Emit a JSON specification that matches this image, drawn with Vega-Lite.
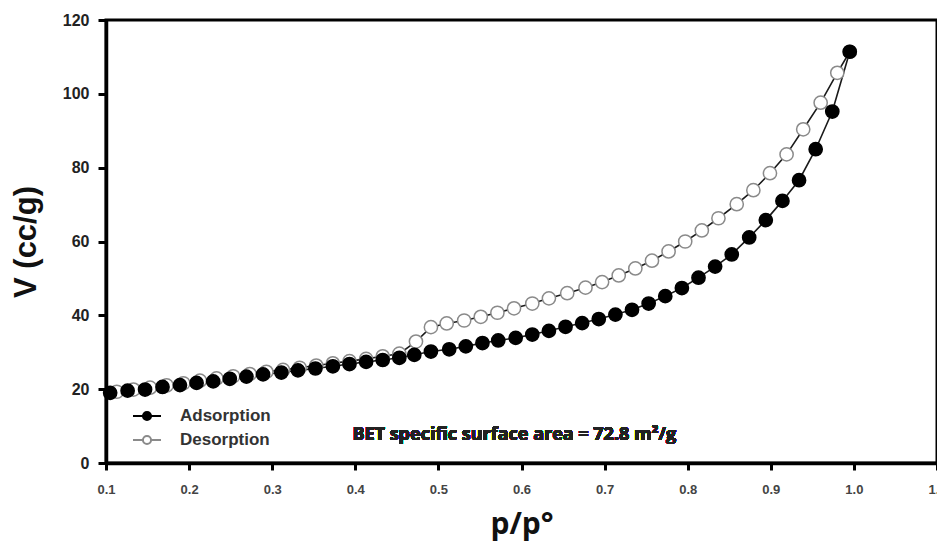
{
  "$schema": "https://vega.github.io/schema/vega-lite/v6.json",
  "width": 831,
  "height": 443,
  "autosize": "none",
  "padding": {"left": 106, "top": 20, "right": 0, "bottom": 79},
  "background": "white",
  "config": {
    "view": {"stroke": "black", "strokeWidth": 3},
    "axis": {"grid": false}
  },
  "data": {
    "values": [
      {"series": "Desorption", "p": 0.113, "v": 19.3},
      {"series": "Desorption", "p": 0.133, "v": 19.9},
      {"series": "Desorption", "p": 0.153, "v": 20.4},
      {"series": "Desorption", "p": 0.173, "v": 21.0},
      {"series": "Desorption", "p": 0.193, "v": 21.6},
      {"series": "Desorption", "p": 0.213, "v": 22.3},
      {"series": "Desorption", "p": 0.233, "v": 22.9},
      {"series": "Desorption", "p": 0.253, "v": 23.5},
      {"series": "Desorption", "p": 0.273, "v": 24.1},
      {"series": "Desorption", "p": 0.293, "v": 24.7},
      {"series": "Desorption", "p": 0.313, "v": 25.2},
      {"series": "Desorption", "p": 0.333, "v": 25.8},
      {"series": "Desorption", "p": 0.353, "v": 26.4},
      {"series": "Desorption", "p": 0.373, "v": 27.0},
      {"series": "Desorption", "p": 0.393, "v": 27.6},
      {"series": "Desorption", "p": 0.413, "v": 28.2},
      {"series": "Desorption", "p": 0.433, "v": 28.9},
      {"series": "Desorption", "p": 0.453, "v": 29.6},
      {"series": "Desorption", "p": 0.473, "v": 32.9},
      {"series": "Desorption", "p": 0.491, "v": 36.8},
      {"series": "Desorption", "p": 0.510, "v": 37.8},
      {"series": "Desorption", "p": 0.531, "v": 38.6},
      {"series": "Desorption", "p": 0.551, "v": 39.6},
      {"series": "Desorption", "p": 0.571, "v": 40.7},
      {"series": "Desorption", "p": 0.591, "v": 41.9},
      {"series": "Desorption", "p": 0.613, "v": 43.2},
      {"series": "Desorption", "p": 0.633, "v": 44.6},
      {"series": "Desorption", "p": 0.655, "v": 46.0},
      {"series": "Desorption", "p": 0.677, "v": 47.5},
      {"series": "Desorption", "p": 0.697, "v": 49.0},
      {"series": "Desorption", "p": 0.717, "v": 50.8},
      {"series": "Desorption", "p": 0.737, "v": 52.7},
      {"series": "Desorption", "p": 0.757, "v": 54.8},
      {"series": "Desorption", "p": 0.777, "v": 57.3},
      {"series": "Desorption", "p": 0.797, "v": 60.0},
      {"series": "Desorption", "p": 0.817, "v": 63.0},
      {"series": "Desorption", "p": 0.837, "v": 66.3},
      {"series": "Desorption", "p": 0.859, "v": 70.1},
      {"series": "Desorption", "p": 0.879, "v": 73.9},
      {"series": "Desorption", "p": 0.899, "v": 78.5},
      {"series": "Desorption", "p": 0.919, "v": 83.6},
      {"series": "Desorption", "p": 0.939, "v": 90.4},
      {"series": "Desorption", "p": 0.960, "v": 97.6},
      {"series": "Desorption", "p": 0.980, "v": 105.7},
      {"series": "Desorption", "p": 0.995, "v": 111.4},
      {"series": "Adsorption", "p": 0.105, "v": 19.0},
      {"series": "Adsorption", "p": 0.126, "v": 19.6},
      {"series": "Adsorption", "p": 0.147, "v": 19.9},
      {"series": "Adsorption", "p": 0.168, "v": 20.6},
      {"series": "Adsorption", "p": 0.189, "v": 21.1},
      {"series": "Adsorption", "p": 0.209, "v": 21.7},
      {"series": "Adsorption", "p": 0.229, "v": 22.1},
      {"series": "Adsorption", "p": 0.249, "v": 22.8},
      {"series": "Adsorption", "p": 0.269, "v": 23.4},
      {"series": "Adsorption", "p": 0.289, "v": 24.0},
      {"series": "Adsorption", "p": 0.311, "v": 24.5},
      {"series": "Adsorption", "p": 0.331, "v": 25.1},
      {"series": "Adsorption", "p": 0.352, "v": 25.6},
      {"series": "Adsorption", "p": 0.373, "v": 26.2},
      {"series": "Adsorption", "p": 0.393, "v": 26.8},
      {"series": "Adsorption", "p": 0.413, "v": 27.4},
      {"series": "Adsorption", "p": 0.433, "v": 27.9},
      {"series": "Adsorption", "p": 0.453, "v": 28.5},
      {"series": "Adsorption", "p": 0.471, "v": 29.3},
      {"series": "Adsorption", "p": 0.491, "v": 30.2},
      {"series": "Adsorption", "p": 0.513, "v": 30.8},
      {"series": "Adsorption", "p": 0.533, "v": 31.6},
      {"series": "Adsorption", "p": 0.553, "v": 32.5},
      {"series": "Adsorption", "p": 0.572, "v": 33.2},
      {"series": "Adsorption", "p": 0.593, "v": 33.9},
      {"series": "Adsorption", "p": 0.613, "v": 34.8},
      {"series": "Adsorption", "p": 0.633, "v": 35.8},
      {"series": "Adsorption", "p": 0.653, "v": 36.9},
      {"series": "Adsorption", "p": 0.673, "v": 37.9},
      {"series": "Adsorption", "p": 0.693, "v": 39.0},
      {"series": "Adsorption", "p": 0.713, "v": 40.2},
      {"series": "Adsorption", "p": 0.733, "v": 41.5},
      {"series": "Adsorption", "p": 0.753, "v": 43.2},
      {"series": "Adsorption", "p": 0.773, "v": 45.2},
      {"series": "Adsorption", "p": 0.793, "v": 47.4},
      {"series": "Adsorption", "p": 0.813, "v": 50.2},
      {"series": "Adsorption", "p": 0.833, "v": 53.2},
      {"series": "Adsorption", "p": 0.853, "v": 56.5},
      {"series": "Adsorption", "p": 0.874, "v": 61.1},
      {"series": "Adsorption", "p": 0.894, "v": 65.8},
      {"series": "Adsorption", "p": 0.914, "v": 71.0},
      {"series": "Adsorption", "p": 0.934, "v": 76.6},
      {"series": "Adsorption", "p": 0.954, "v": 85.0},
      {"series": "Adsorption", "p": 0.974, "v": 95.2},
      {"series": "Adsorption", "p": 0.995, "v": 111.4}
    ]
  },
  "encoding": {
    "x": {
      "field": "p",
      "type": "quantitative",
      "scale": {"domain": [0.1, 1.1], "nice": false, "zero": false},
      "axis": {
        "title": "p/p°",
        "values": [0.1, 0.2, 0.3, 0.4, 0.5, 0.6, 0.7, 0.8, 0.9, 1.0, 1.1],
        "format": ".1f",
        "domainColor": "black",
        "domainWidth": 3.5,
        "tickColor": "black",
        "tickWidth": 3,
        "tickSize": 7,
        "labelFont": "Liberation Sans",
        "labelFontWeight": "bold",
        "labelFontSize": 13,
        "labelColor": "#444",
        "labelPadding": 13,
        "labelFlush": false,
        "titleFont": "Open Sans",
        "titleFontWeight": "bold",
        "titleFontSize": 30,
        "titleColor": "#111",
        "titlePadding": 13
      }
    },
    "y": {
      "field": "v",
      "type": "quantitative",
      "scale": {"domain": [0, 120], "nice": false},
      "axis": {
        "title": "V (cc/g)",
        "values": [0, 20, 40, 60, 80, 100, 120],
        "domainColor": "black",
        "domainWidth": 3.5,
        "tickColor": "black",
        "tickWidth": 3,
        "tickSize": 8,
        "labelFont": "Liberation Sans",
        "labelFontWeight": "bold",
        "labelFontSize": 16,
        "labelColor": "#222",
        "labelPadding": 9,
        "labelFlush": false,
        "titleFont": "Liberation Sans",
        "titleFontWeight": "bold",
        "titleFontSize": 31,
        "titleColor": "#111",
        "titlePadding": 20
      }
    }
  },
  "layer": [
    {
      "mark": {"type": "line", "strokeWidth": 1.6, "color": "#1a1a1a"},
      "encoding": {
        "detail": {"field": "series", "type": "nominal"}
      }
    },
    {
      "mark": {"type": "point", "shape": "circle", "size": 175, "strokeWidth": 1.5, "opacity": 1},
      "encoding": {
        "fill": {
          "field": "series",
          "type": "nominal",
          "scale": {"domain": ["Adsorption", "Desorption"], "range": ["#000000", "#ffffff"]},
          "legend": {
            "title": null,
            "orient": "none",
            "legendX": 26,
            "legendY": 381,
            "padding": 0,
            "symbolType": "M-1,0H-0.29M0.29,0H1M0.29,0A0.29,0.29,0,1,1,-0.29,0A0.29,0.29,0,1,1,0.29,0",
            "symbolSize": 784,
            "symbolStrokeWidth": 2,
            "labelFont": "Liberation Sans",
            "labelFontWeight": "bold",
            "labelFontSize": 17,
            "labelColor": "#333",
            "labelOffset": 18,
            "rowPadding": 0
          }
        },
        "stroke": {
          "field": "series",
          "type": "nominal",
          "scale": {"domain": ["Adsorption", "Desorption"], "range": ["#000000", "#8a8a8a"]},
          "legend": {
            "title": null,
            "orient": "none",
            "legendX": 26,
            "legendY": 381,
            "padding": 0,
            "symbolType": "M-1,0H-0.29M0.29,0H1M0.29,0A0.29,0.29,0,1,1,-0.29,0A0.29,0.29,0,1,1,0.29,0",
            "symbolSize": 784,
            "symbolStrokeWidth": 2,
            "labelFont": "Liberation Sans",
            "labelFontWeight": "bold",
            "labelFontSize": 17,
            "labelColor": "#333",
            "labelOffset": 18,
            "rowPadding": 0
          }
        }
      }
    },
    {
      "mark": {"type": "text", "align": "left", "baseline": "middle", "font": "Open Sans", "fontWeight": "bold", "fontSize": 18, "color": "#222"},
      "encoding": {
        "x": {"datum": 0.3965},
        "y": {"datum": 7.5},
        "text": {"value": "BET specific surface area = 72.8 m²/g"}
      }
    }
  ]
}
